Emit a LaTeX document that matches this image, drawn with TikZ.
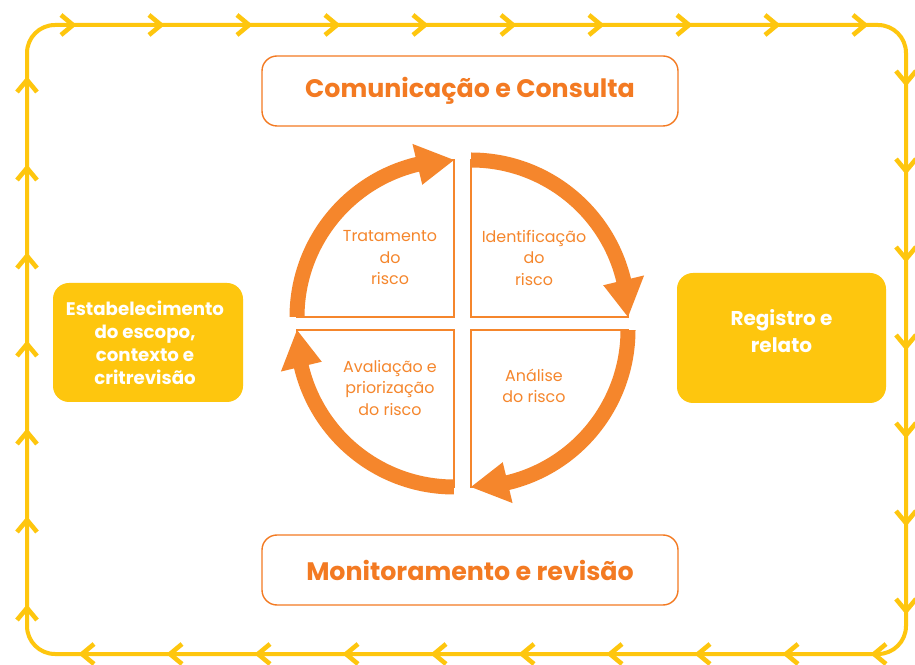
\documentclass[tikz,border=0pt]{standalone}
\usepackage{fontspec}
\setmainfont{Poppins}
\usetikzlibrary{calc}
\definecolor{ylw}{HTML}{FEC60E}
\definecolor{org}{HTML}{F5862C}
\definecolor{orgtxt}{HTML}{F37A22}
\begin{document}
\begin{tikzpicture}[x=1pt,y=1pt,
 border/.style={draw=ylw, line width=4pt, rounded corners=28pt},
 chev/.style={draw=ylw, line width=4.6pt, line cap=butt, line join=miter},
 titlebox/.style={draw=orgtxt, line width=1.4pt, rounded corners=15pt, minimum width=416pt, minimum height=70pt, text=orgtxt, font=\bfseries\fontsize{25.3}{29}\selectfont},
 ybox/.style={fill=ylw, rounded corners=16pt, inner sep=0pt},
 ytext/.style={text=white, font=\bfseries\fontsize{18.2}{23}\selectfont, align=center},
 rtext/.style={text=white, font=\bfseries\fontsize{20}{27}\selectfont, align=center},
 qtext/.style={text=org, font=\fontsize{15.9}{21.5}\selectfont, align=center},
 quad/.style={draw=org, line width=1.6pt},
 ring/.style={draw=org, line width=15pt},
 head/.style={fill=org},
]
\useasboundingbox (0,0) rectangle (915,664);
\fill[white] (0,0) rectangle (915,664);

% outer loop with chevrons
\draw[border] (27,10) rectangle (906,639);
\foreach \k in {0,...,9}{
  \pgfmathsetmacro{\xt}{73+88*\k}
  \draw[chev] (\xt-12,649) -- (\xt,639) -- (\xt-12,629);
  \pgfmathsetmacro{\xb}{82+88*\k}
  \draw[chev] (\xb+12,20) -- (\xb,10) -- (\xb+12,0);
}
\foreach \k in {0,...,6}{
  \pgfmathsetmacro{\yr}{581-88*\k}
  \draw[chev] (896,\yr+12) -- (906,\yr) -- (916,\yr+12);
  \pgfmathsetmacro{\yl}{584-88*\k}
  \draw[chev] (17,\yl-12) -- (27,\yl) -- (37,\yl-12);
}

% title boxes
\node[titlebox] (comm) at (470,573) {Comunicação e Consulta};
\node[titlebox] (mon) at (470,94) {Monitoramento e revisão};

% side boxes
\node[ybox, minimum width=190pt, minimum height=119pt] (est) at (148,321.5) {};
\node[ytext] (estt) at ([xshift=-3pt]est.center) {Estabelecimento\\do escopo,\\contexto e\\critrevisão};
\node[ybox, minimum width=209pt, minimum height=130pt] (reg) at (781.5,326) {};
\node[rtext] (regt) at ([yshift=6.5pt]reg.center) {Registro e\\relato};

% quadrant corners
\coordinate (ul) at (454,347);
\coordinate (ur) at (471,347);
\coordinate (ll) at (454,334);
\coordinate (lr) at (471,334);

\foreach \c/\s in {ur/90, lr/0, ll/270, ul/180}{
  \draw[quad] (\c) -- ([shift={(\s:157)}]\c) arc[start angle=\s, end angle=\s-90, radius=157pt] -- cycle;
}
\foreach \c/\s in {ur/90, lr/0, ll/270, ul/180}{
  \draw[ring] ([shift={(\s:157)}]\c) arc[start angle=\s, end angle=\s-78, radius=157pt];
  \fill[head] ([shift={(\s-90:157)}]\c) -- ([shift={(\s-76.5:136)}]\c) -- ([shift={(\s-76.5:178)}]\c) -- cycle;
}

\node[qtext] (trat) at (390,406) {Tratamento\\do\\risco};
\node[qtext] (ident) at (534,406) {Identificação\\do\\risco};
\node[qtext] (aval) at (390,276) {Avaliação e\\priorização\\do risco};
\node[qtext] (anal) at (534,278) {Análise\\do risco};
\end{tikzpicture}
\end{document}
